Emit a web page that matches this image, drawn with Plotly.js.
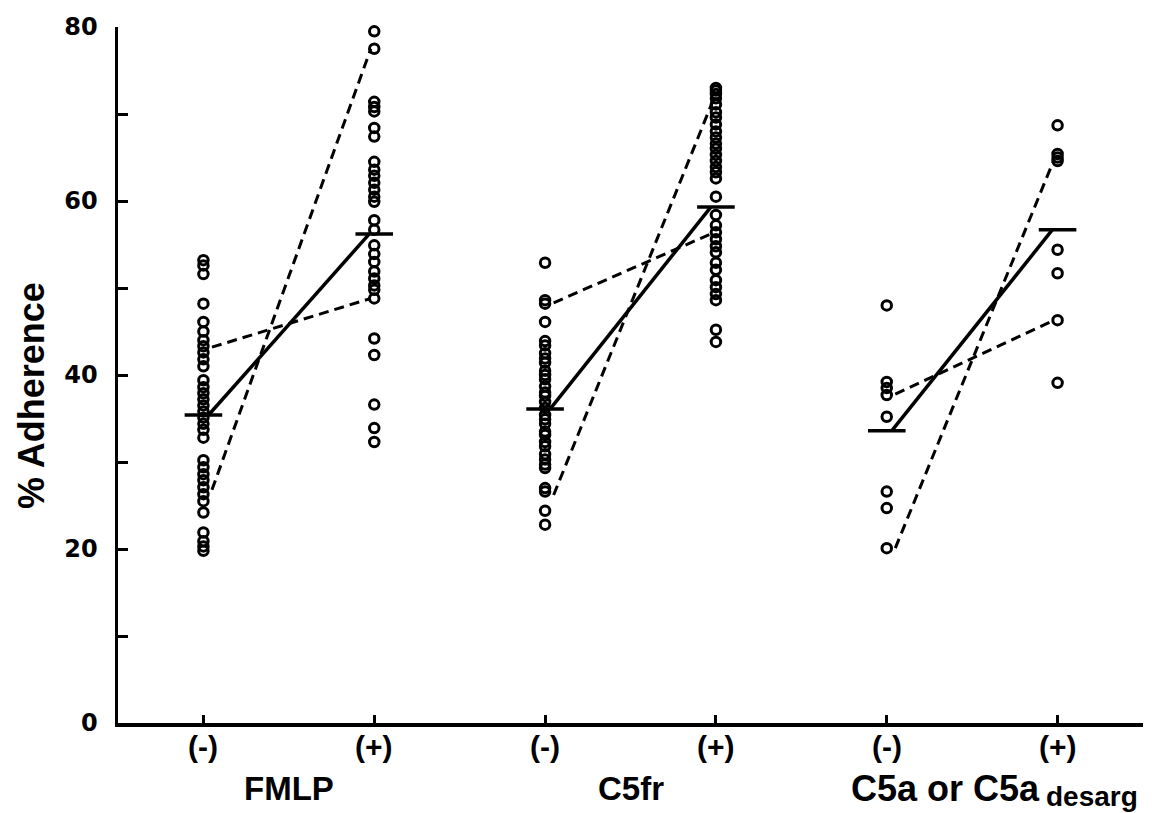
<!DOCTYPE html>
<html>
<head>
<meta charset="utf-8">
<script src="https://cdn.plot.ly/plotly-3.0.1.min.js"></script>
<style>
  html, body { margin: 0; padding: 0; background: #fff; }
  #chart { width: 1158px; height: 813px; }
</style>
</head>
<body>
<div id="chart"></div>
<script>
// ---- Data (% Adherence) ----
const tickLabels = ['(-)', '(+)', '(-)', '(+)', '(-)', '(+)'];
const groupLabels = ['FMLP', 'C5fr', 'C5a or C5a'];
const groupSubscript = 'desarg';
const yTickValues = [0, 20, 40, 60, 80];
const yTickLabels = ['0', '20', '40', '60', '80'];

const fmlpMinus = [53.2, 52.6, 51.6, 48.2, 46.1, 45.0, 44.0, 43.3, 42.6, 41.8, 41.0, 39.4, 38.6, 37.9, 37.2, 36.5, 35.8, 35.1, 34.4, 33.7, 32.8, 30.2, 29.4, 28.6, 27.9, 27.1, 26.3, 25.5, 24.2, 21.9, 20.9, 20.3, 19.8];
const fmlpPlus = [79.5, 77.5, 71.4, 70.8, 70.3, 68.4, 67.4, 64.5, 63.6, 62.9, 62.1, 61.3, 60.5, 59.9, 57.8, 56.7, 54.9, 53.9, 53.0, 51.9, 51.1, 50.3, 49.8, 48.8, 44.2, 42.3, 36.6, 33.9, 32.3];
const c5frMinus = [52.9, 48.6, 48.2, 46.1, 43.9, 43.4, 42.5, 41.9, 41.4, 40.5, 40.0, 39.5, 38.7, 38.0, 37.6, 36.9, 36.2, 35.4, 34.9, 34.4, 33.5, 33.1, 32.3, 31.8, 30.9, 30.3, 29.7, 29.3, 27.0, 26.6, 24.4, 22.8];
const c5frPlus = [73.0, 72.7, 72.3, 71.8, 71.1, 70.2, 69.6, 68.8, 68.0, 67.3, 66.6, 66.0, 65.3, 64.6, 63.9, 63.3, 62.6, 60.5, 58.4, 57.2, 56.4, 55.6, 54.8, 54.1, 52.9, 52.1, 50.9, 50.1, 49.3, 48.6, 45.2, 43.8];
const c5aMinus = [48.0, 39.2, 38.5, 37.7, 35.2, 26.6, 24.7, 20.1];
const c5aPlus = [68.7, 65.4, 65.0, 64.6, 54.4, 51.7, 46.3, 39.1];

// mean values (horizontal bars + solid line)
const meanMinus = [35.4, 36.1, 33.6];
const meanPlus = [56.2, 59.3, 56.7];
// dashed lines: two per agent (start at (-), end at (+))
const dashUpperStart = [43.2, 48.3, 37.8];
const dashUpperEnd = [48.8, 56.3, 46.3];
const dashLowerStart = [26.8, 26.2, 20.1];
const dashLowerEnd = [77.5, 71.4, 64.8];

// ---- Build traces ----
const columns = [fmlpMinus, fmlpPlus, c5frMinus, c5frPlus, c5aMinus, c5aPlus];
const traces = [];
columns.forEach((vals, i) => {
  traces.push({
    type: 'scatter', mode: 'markers', cliponaxis: false,
    x: vals.map(() => i + 1), y: vals,
    marker: { symbol: 'circle-open', size: 9.5, color: '#000', line: { width: 3, color: '#000' } },
    hoverinfo: 'y', showlegend: false
  });
});

const barHalf = 0.11;
for (let g = 0; g < 3; g++) {
  const xm = 2 * g + 1, xp = 2 * g + 2;
  [[xm, meanMinus[g]], [xp, meanPlus[g]]].forEach(([x, y]) => {
    traces.push({
      type: 'scatter', mode: 'lines', cliponaxis: false,
      x: [x - barHalf, x + barHalf], y: [y, y],
      line: { color: '#000', width: 3.5 }, hoverinfo: 'skip', showlegend: false
    });
  });
  traces.push({
    type: 'scatter', mode: 'lines', cliponaxis: false,
    x: [xm + 0.03, xp - 0.03], y: [meanMinus[g], meanPlus[g]],
    line: { color: '#000', width: 3.5 }, hoverinfo: 'skip', showlegend: false
  });
  traces.push({
    type: 'scatter', mode: 'lines', cliponaxis: false,
    x: [xm + 0.05, xp - 0.02], y: [dashUpperStart[g], dashUpperEnd[g]],
    line: { color: '#000', width: 3, dash: '10px,6px' }, hoverinfo: 'skip', showlegend: false
  });
  traces.push({
    type: 'scatter', mode: 'lines', cliponaxis: false,
    x: [xm + 0.05, xp - 0.02], y: [dashLowerStart[g], dashLowerEnd[g]],
    line: { color: '#000', width: 3, dash: '10px,6px' }, hoverinfo: 'skip', showlegend: false
  });
}

const labelFont = (size) => ({ family: 'Liberation Sans, Arial, sans-serif', size: size, color: '#000', weight: 'bold' });
const groupX = [1.5, 3.5, 5.906];
const groupAnchor = ['center', 'center', 'right'];
const groupSize = [33, 33, 36];
const annotations = groupLabels.map((t, i) => ({
  text: t, x: groupX[i], xref: 'x', y: 0, yref: 'paper',
  yanchor: 'middle', xanchor: groupAnchor[i], yshift: -65, showarrow: false,
  font: labelFont(groupSize[i])
}));
annotations.push({
  text: groupSubscript, x: groupX[2], xref: 'x', y: 0, yref: 'paper',
  yanchor: 'middle', xanchor: 'left', xshift: 2, yshift: -73, showarrow: false,
  font: labelFont(28)
});
annotations.push({
  text: '% Adherence', x: 0, xref: 'paper', y: 0.47, yref: 'paper',
  xanchor: 'center', yanchor: 'middle', xshift: -86, textangle: -90, showarrow: false,
  font: labelFont(36)
});
// x-axis (-)/(+) labels placed just under the axis
const tickAnnots = tickLabels.map((t, i) => ({
  text: t, x: i + 1, xref: 'x', y: 0, yref: 'paper',
  yanchor: 'middle', xanchor: 'center', yshift: -23, showarrow: false,
  font: labelFont(30)
}));

const layout = {
  width: 1158, height: 813,
  margin: { l: 118, r: 15, t: 27, b: 90 },
  paper_bgcolor: '#fff', plot_bgcolor: '#fff',
  showlegend: false,
  xaxis: {
    range: [0.5, 6.5], tickvals: [1, 2, 3, 4, 5, 6], showticklabels: false,
    showline: true, linecolor: '#000', linewidth: 3.5, mirror: false,
    ticks: 'inside', ticklen: 8, tickwidth: 3, tickcolor: '#000',
    showgrid: false, zeroline: false
  },
  yaxis: {
    range: [0, 80], tickvals: yTickValues, ticktext: yTickLabels,
    showline: true, linecolor: '#000', linewidth: 3.5,
    ticks: 'inside', ticklen: 10, tickwidth: 3, tickcolor: '#000',
    minor: { tickvals: [10, 30, 50, 70], ticks: 'inside', ticklen: 10, tickwidth: 3, tickcolor: '#000', showgrid: false },
    showgrid: false, zeroline: false, ticklabelstandoff: 12,
    tickfont: { family: 'DejaVu Sans, sans-serif', size: 24, color: '#000', weight: 'bold' }
  },
  annotations: annotations.concat(tickAnnots)
};

Plotly.newPlot('chart', traces, layout, { displayModeBar: false, staticPlot: true });
</script>
</body>
</html>
